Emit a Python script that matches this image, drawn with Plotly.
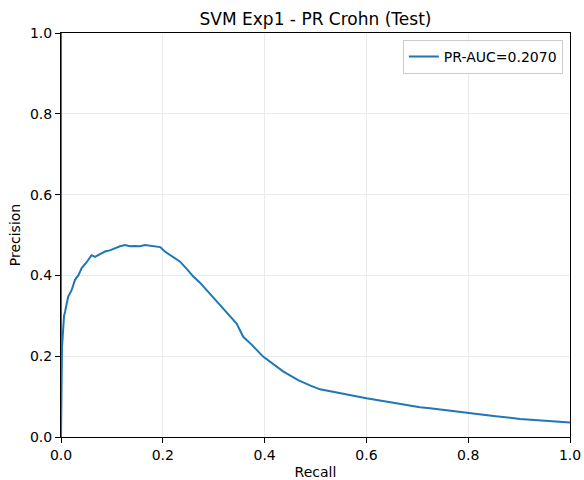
import plotly.graph_objects as go

recall = [0, 0, 0.002, 0.0045, 0.006, 0.008, 0.011, 0.014, 0.021, 0.0275, 0.034, 0.0406,
          0.05, 0.060, 0.0668, 0.075, 0.0864, 0.096, 0.106, 0.116, 0.126, 0.135, 0.145,
          0.155, 0.165, 0.175, 0.185, 0.195, 0.204, 0.221, 0.234, 0.247, 0.260, 0.273,
          0.286, 0.299, 0.312, 0.328, 0.345, 0.358, 0.375, 0.397, 0.415, 0.437, 0.466,
          0.490, 0.509, 0.548, 0.600, 0.653, 0.705, 0.725, 0.800, 0.850, 0.902, 0.950, 1.0]
precision = [1.0, 0.0, 0.223, 0.29, 0.30, 0.31, 0.33, 0.347, 0.364, 0.389, 0.40, 0.418,
             0.432, 0.450, 0.446, 0.452, 0.459, 0.462, 0.467, 0.472, 0.475, 0.472, 0.473,
             0.472, 0.475, 0.473, 0.471, 0.470, 0.459, 0.446, 0.434, 0.416, 0.397, 0.382,
             0.364, 0.347, 0.327, 0.305, 0.281, 0.248, 0.228, 0.199, 0.183, 0.162, 0.141,
             0.127, 0.118, 0.108, 0.096, 0.085, 0.0735, 0.071, 0.0585, 0.052, 0.0446, 0.040, 0.036]
tick_vals = [0.0, 0.2, 0.4, 0.6, 0.8, 1.0]
tick_text = ["0.0", "0.2", "0.4", "0.6", "0.8", "1.0"]

font = "DejaVu Sans"

fig = go.Figure()
fig.add_trace(go.Scatter(
    x=recall, y=precision, mode="lines", name="PR-AUC=0.2070",
    line=dict(color="#1f77b4", width=2),
))

axis_common = dict(
    range=[0, 1], tickvals=tick_vals, ticktext=tick_text,
    showline=True, linecolor="black", linewidth=1, mirror=True,
    ticks="outside", ticklen=5, tickwidth=1, tickcolor="black",
    showgrid=True, gridcolor="#ebebeb", gridwidth=1, zeroline=False,
    tickfont=dict(family=font, size=14, color="black"),
    automargin=False,
)

fig.update_layout(
    width=584, height=480,
    margin=dict(l=61, r=14, t=33, b=43),
    paper_bgcolor="white", plot_bgcolor="white",
    font=dict(family=font, size=14, color="black"),
    title=dict(text="SVM Exp1 - PR Crohn (Test)", x=0.5, xref="paper",
               y=1 - 19 / 480, yref="container", yanchor="middle", xanchor="center",
               font=dict(family=font, size=17, color="black"), automargin=False),
    xaxis=dict(axis_common, title=dict(text="Recall", standoff=5,
                                       font=dict(family=font, size=14))),
    yaxis=dict(axis_common, title=dict(text="Precision", standoff=6,
                                       font=dict(family=font, size=14))),
    showlegend=True,
    legend=dict(x=0.986, y=0.983, xanchor="right", yanchor="top",
                bgcolor="rgba(255,255,255,0.8)", bordercolor="#cccccc", borderwidth=1,
                font=dict(family=font, size=14)),
)

fig.write_html("out.html")
